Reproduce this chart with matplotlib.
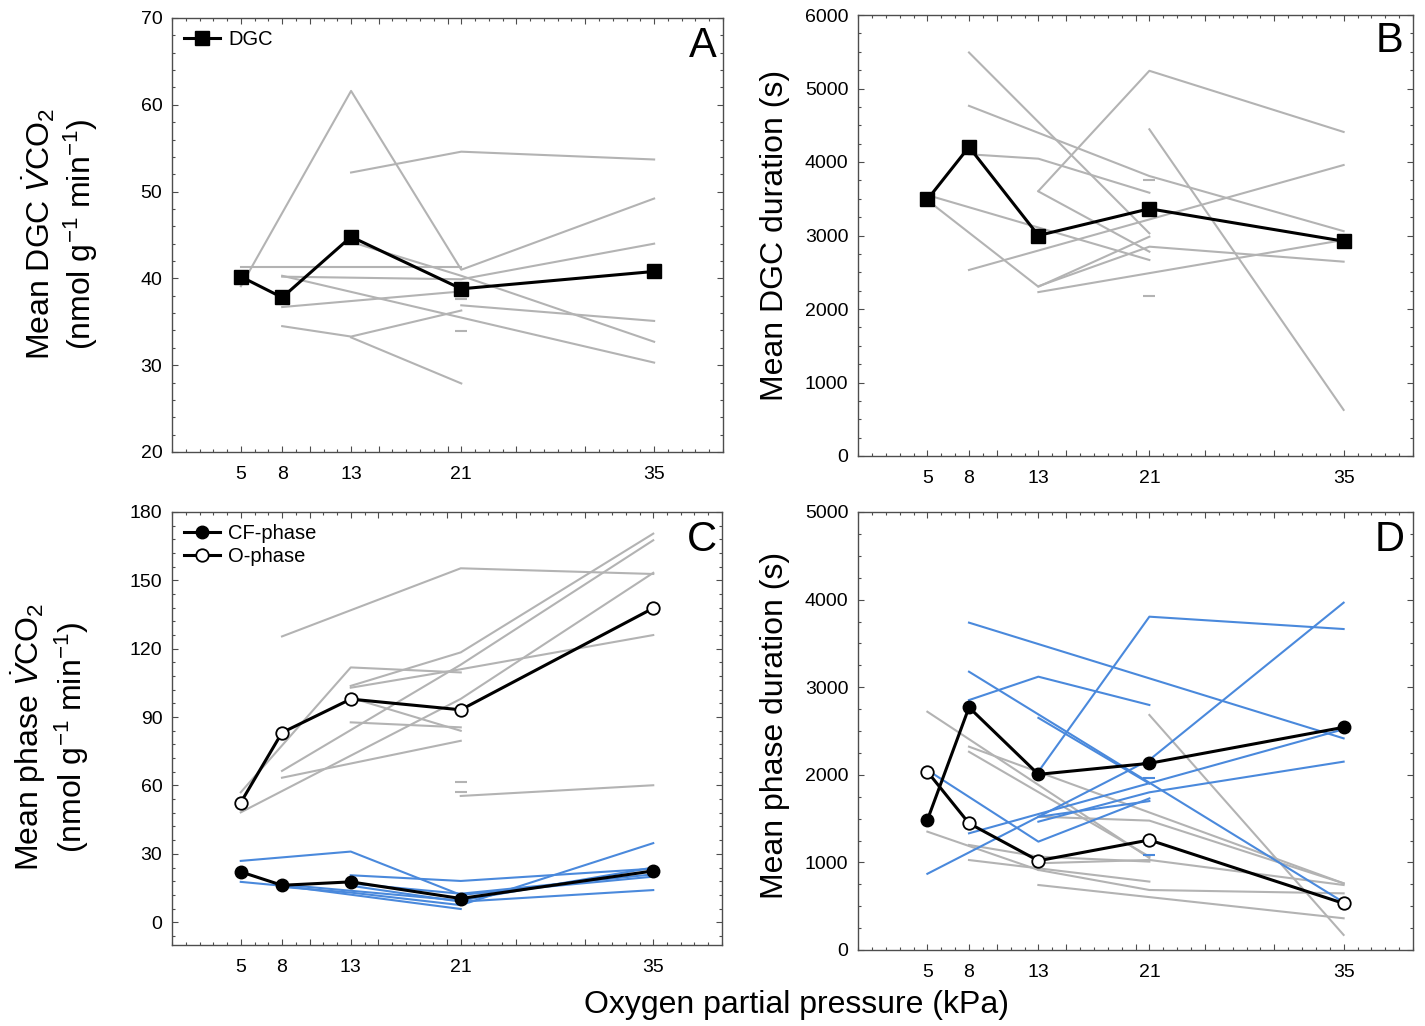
import numpy as np
import matplotlib
matplotlib.use("Agg")
import matplotlib.pyplot as plt
from matplotlib.ticker import MultipleLocator, FixedLocator

plt.rcParams['font.family'] = ['Liberation Sans', 'DejaVu Sans']
plt.rcParams['mathtext.fontset'] = 'custom'
plt.rcParams['mathtext.rm'] = 'Liberation Sans'
plt.rcParams['mathtext.it'] = 'Liberation Sans:italic'

nan = np.nan
o2 = [5, 8, 13, 21, 35]

# Panel A: mean DGC VCO2
A_mean = [40.2, 37.8, 44.8, 38.8, 40.8]
A_ind = [
    [39.1, nan, 61.6, 41.0, 49.2],
    [nan, nan, 52.2, 54.6, 53.7],
    [41.3, nan, nan, 41.3, nan],
    [nan, 40.2, nan, 39.9, 44.0],
    [nan, nan, 44.2, 40.3, 32.7],
    [nan, 40.3, nan, nan, 30.3],
    [nan, 36.7, nan, 38.5, nan],
    [nan, nan, nan, 36.9, 35.1],
    [nan, 34.5, 33.3, 36.3, nan],
    [nan, nan, 33.2, 27.9, nan],
    [nan, nan, nan, 37.6, nan],
    [nan, nan, nan, 33.9, nan],
]

# Panel B: mean DGC duration
B_mean = [3490, 4205, 3000, 3364, 2923]
B_ind = [
    [nan, 5490, nan, 3030, nan],
    [nan, 4764, nan, 3809, 3059],
    [nan, nan, 3605, 5241, 4409],
    [nan, nan, nan, 4445, 627],
    [nan, 4105, 4045, 3582, nan],
    [3550, nan, nan, 2667, nan],
    [3480, nan, 2303, 2984, nan],
    [nan, nan, 3600, 2780, nan],
    [nan, nan, 2230, nan, 2939],
    [nan, 2531, nan, nan, 3959],
    [nan, nan, 2310, 2848, 2644],
    [nan, nan, nan, 3755, nan],
    [nan, nan, nan, 2177, nan],
]

# Panel C: mean phase VCO2
C_cf_mean = [22.1, 16.2, 17.7, 10.4, 22.5]
C_o_mean = [52.5, 83.2, 97.9, 93.2, 137.8]
C_o_ind = [
    [nan, 125.4, nan, 155.3, 152.8],
    [57.0, nan, 111.8, 109.6, nan],
    [nan, nan, 103.7, 118.4, 170.5],
    [nan, 66.4, nan, 113.0, 167.6],
    [48.2, nan, nan, 98.0, 153.3],
    [nan, nan, 102.9, 111.0, 126.0],
    [nan, nan, 87.7, 85.5, nan],
    [nan, nan, 98.5, 84.0, nan],
    [nan, 63.4, nan, 79.6, nan],
    [nan, nan, nan, 55.4, 60.1],
    [nan, nan, nan, 61.6, nan],
    [nan, nan, nan, 57.2, nan],
]
C_cf_ind = [
    [26.9, nan, 31.0, 12.0, 20.0],
    [nan, nan, 20.6, 18.1, 23.5],
    [17.7, 16.0, nan, 5.8, nan],
    [nan, 15.5, 13.0, 7.5, 34.7],
    [nan, nan, 16.0, 9.0, 14.1],
    [nan, nan, 17.0, 12.5, 21.0],
    [nan, 16.5, nan, 9.5, 24.0],
]

# Panel D: mean phase duration
D_cf_mean = [1484, 2770, 2005, 2131, 2542]
D_o_mean = [2036, 1446, 1019, 1256, 532]
D_cf_ind = [
    [nan, 3737, nan, nan, 2416],
    [nan, nan, 2036, 3805, 3664],
    [nan, 2853, 3120, 2797, nan],
    [nan, 3177, nan, nan, 545],
    [nan, nan, 2650, 1900, nan],
    [870, nan, nan, 2170, 3965],
    [2054, nan, 1237, 1730, nan],
    [nan, 1332, nan, nan, 2520],
    [nan, nan, 1465, 1800, 2150],
    [nan, nan, 1520, 1700, nan],
    [nan, nan, nan, 1960, nan],
    [nan, nan, nan, 1080, nan],
]
D_o_ind = [
    [2720, nan, nan, 1050, nan],
    [nan, 2321, nan, nan, 761],
    [nan, 2263, nan, 1066, nan],
    [nan, nan, nan, 2683, 172],
    [nan, nan, 1522, 1477, 761],
    [1351, nan, 914, nan, nan],
    [nan, nan, 742, nan, 362],
    [nan, 1199, 1066, 1009, nan],
    [nan, 1027, nan, 781, nan],
    [nan, nan, 914, 685, 647],
    [nan, nan, 990, 1028, 742],
]

GRAY = '#b3b3b3'
BLUE = '#4a89dc'
SPINE = '#4d4d4d'

W, H = 1425, 1026
fig = plt.figure(figsize=(W / 100, H / 100), dpi=100)


def box(l, t, r, b):
    return [l / W, 1 - b / H, (r - l) / W, (b - t) / H]


axA = fig.add_axes(box(172, 18, 723, 452))
axB = fig.add_axes(box(858, 15, 1413, 456))
axC = fig.add_axes(box(172, 512, 722, 945))
axD = fig.add_axes(box(858, 512, 1413, 950))


def draw_ind(ax, data, color):
    x = np.array(o2, dtype=float)
    for row in data:
        y = np.array(row, dtype=float)
        m = ~np.isnan(y)
        if m.sum() == 1:
            ax.plot(x[m], y[m], marker='_', ms=9, mew=1.5, color=color,
                    ls='none', zorder=2)
        else:
            ax.plot(x[m], y[m], color=color, lw=1.5, zorder=2)


def style(ax, ylim, ymaj, ymin):
    ax.set_xlim(0, 40)
    ax.set_ylim(*ylim)
    ax.xaxis.set_major_locator(FixedLocator([5, 8, 10, 13, 15, 20, 21, 25, 30, 35]))
    ax.xaxis.set_minor_locator(MultipleLocator(1))
    ax.set_xticklabels(['5', '8', '', '13', '', '', '21', '', '', '35'])
    ax.yaxis.set_major_locator(MultipleLocator(ymaj))
    ax.yaxis.set_minor_locator(MultipleLocator(ymin))
    ax.tick_params(which='both', direction='in', top=True, right=True,
                   color=SPINE, width=0.8)
    ax.tick_params(which='major', length=4, labelsize=14)
    ax.tick_params(axis='x', which='major', pad=10)
    ax.tick_params(axis='y', which='major', pad=7)
    ax.tick_params(which='minor', length=2)
    for s in ax.spines.values():
        s.set_color(SPINE)
        s.set_linewidth(1.0)


# A
draw_ind(axA, A_ind, GRAY)
axA.plot(o2, A_mean, color='black', lw=2.2, marker='s', ms=9.5,
         mfc='black', mec='black', zorder=5, label='DGC')
style(axA, (20, 70), 10, 2)
axA.legend(loc='upper left', frameon=False, fontsize=14.5, handlelength=1.8,
           borderaxespad=0.2, handletextpad=0.4)
axA.text(0.963, 0.935, 'A', transform=axA.transAxes, fontsize=30,
         ha='center', va='center')

# B
draw_ind(axB, B_ind, GRAY)
axB.plot(o2, B_mean, color='black', lw=2.2, marker='s', ms=9.5,
         mfc='black', mec='black', zorder=5)
style(axB, (0, 6000), 1000, 250)
axB.text(0.958, 0.94, 'B', transform=axB.transAxes, fontsize=30,
         ha='center', va='center')

# C
draw_ind(axC, C_o_ind, GRAY)
draw_ind(axC, C_cf_ind, BLUE)
axC.plot(o2, C_cf_mean, color='black', lw=2.2, marker='o', ms=9,
         mfc='black', mec='black', zorder=5, label='CF-phase')
axC.plot(o2, C_o_mean, color='black', lw=2.2, marker='o', ms=9,
         mfc='white', mec='black', mew=1.3, zorder=5, label='O-phase')
style(axC, (-10, 180), 30, 6)
axC.legend(loc='upper left', frameon=False, fontsize=14.5, handlelength=1.8,
           borderaxespad=0.2, handletextpad=0.4, labelspacing=0.2)
axC.text(0.963, 0.935, 'C', transform=axC.transAxes, fontsize=30,
         ha='center', va='center')

# D
draw_ind(axD, D_o_ind, GRAY)
draw_ind(axD, D_cf_ind, BLUE)
axD.plot(o2, D_cf_mean, color='black', lw=2.2, marker='o', ms=9,
         mfc='black', mec='black', zorder=5)
axD.plot(o2, D_o_mean, color='black', lw=2.2, marker='o', ms=9,
         mfc='white', mec='black', mew=1.3, zorder=5)
style(axD, (0, 5000), 1000, 250)
axD.text(0.958, 0.936, 'D', transform=axD.transAxes, fontsize=30,
         ha='center', va='center')

# axis labels
fig.text(60 / W, 1 - 234 / H,
         'Mean DGC $\\dot{V}$CO$_2$\n(nmol g$^{-1}$ min$^{-1}$)',
         rotation=90, ha='center', va='center', fontsize=23,
         multialignment='center', linespacing=1.15)
fig.text(775 / W, 1 - 235 / H, 'Mean DGC duration (s)',
         rotation=90, ha='center', va='center', fontsize=23)
fig.text(50 / W, 1 - 737 / H,
         'Mean phase $\\dot{V}$CO$_2$\n(nmol g$^{-1}$ min$^{-1}$)',
         rotation=90, ha='center', va='center', fontsize=23,
         multialignment='center', linespacing=1.15)
fig.text(775 / W, 1 - 725 / H, 'Mean phase duration (s)',
         rotation=90, ha='center', va='center', fontsize=23)
fig.text(797 / W, 1 - 1005 / H, 'Oxygen partial pressure (kPa)',
         ha='center', va='center', fontsize=23)

fig.savefig('out.png', dpi=100)
